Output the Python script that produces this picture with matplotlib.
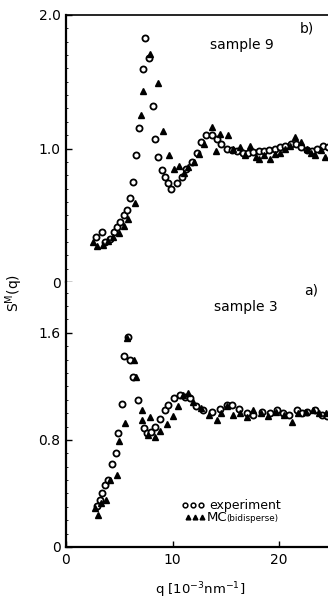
import matplotlib
matplotlib.use("Agg")
import matplotlib.pyplot as plt
from matplotlib.ticker import MultipleLocator

# sample 9 (panel b)
q9_exp = [2.8, 3.35, 3.65, 4.1, 4.5, 4.8, 5.05, 5.4, 5.7, 6.0, 6.3, 6.6, 6.9, 7.2, 7.4,
          7.8, 8.2, 8.4, 8.6, 9.0, 9.3, 9.6, 9.9, 10.4, 10.9, 11.3, 11.8, 12.3, 12.7, 13.1,
          13.7, 14.2, 14.6, 15.1, 15.6, 16.1, 16.6, 17.1, 17.6, 18.1, 18.6, 19.1, 19.6, 20.1,
          20.6, 21.1, 21.6, 22.1, 22.6, 23.1, 23.6, 24.1, 24.6]
s9_exp = [0.34, 0.375, 0.30, 0.32, 0.375, 0.41, 0.45, 0.50, 0.54, 0.63, 0.75, 0.95, 1.15, 1.595, 1.83,
          1.68, 1.32, 1.07, 0.935, 0.84, 0.79, 0.74, 0.70, 0.74, 0.79, 0.85, 0.90, 0.97, 1.05, 1.10,
          1.10, 1.07, 1.03, 1.0, 0.99, 0.98, 0.97, 0.97, 0.975, 0.98, 0.985, 0.99, 1.0, 1.01,
          1.02, 1.03, 1.03, 1.01, 0.99, 0.98, 1.0, 1.02, 1.01]
q9_mc = [2.55, 2.9, 3.45, 3.9, 4.45, 5.0, 5.45, 5.85, 6.45, 7.0, 7.2, 7.9, 8.6, 9.15, 9.7,
         10.1, 10.6, 11.1, 11.5, 12.0, 12.5, 13.0, 13.7, 14.1, 14.5, 15.2, 15.7, 16.3, 16.8, 17.3,
         17.8, 18.1, 18.6, 19.2, 19.6, 20.1, 20.6, 21.0, 21.5, 22.1, 22.6, 23.0, 23.4, 23.9, 24.3]
s9_mc = [0.30, 0.27, 0.28, 0.31, 0.34, 0.37, 0.42, 0.47, 0.59, 1.25, 1.43, 1.71, 1.49, 1.13, 0.95,
         0.85, 0.87, 0.82, 0.86, 0.90, 0.96, 1.03, 1.16, 0.98, 1.11, 1.10, 1.00, 1.01, 0.95, 1.02,
         0.94, 0.92, 0.95, 0.92, 0.96, 0.97, 1.00, 1.02, 1.085, 1.05, 1.00, 0.97, 0.95, 0.99, 0.935]

# sample 3 (panel a)
q3_exp = [2.9, 3.15, 3.4, 3.65, 3.9, 4.35, 4.65, 4.9, 5.3, 5.4, 5.85, 6.0, 6.3, 6.75, 7.3,
          7.6, 8.0, 8.4, 8.85, 9.3, 9.6, 10.1, 10.7, 11.2, 11.65, 12.2, 12.9, 13.7, 14.5, 15.1,
          15.6, 16.2, 17.0, 17.6, 18.4, 19.2, 19.8, 20.4, 20.9, 21.7, 22.2, 22.6, 23.4, 24.0, 24.5]
s3_exp = [0.31, 0.35, 0.40, 0.46, 0.50, 0.62, 0.70, 0.85, 1.07, 1.43, 1.57, 1.40, 1.27, 1.10, 0.89,
          0.85, 0.86, 0.90, 0.96, 1.02, 1.06, 1.11, 1.135, 1.12, 1.11, 1.05, 1.02, 1.01, 1.03, 1.06,
          1.06, 1.03, 1.00, 0.99, 1.01, 1.00, 1.02, 1.00, 0.99, 1.02, 1.00, 1.01, 1.02, 0.99, 0.98]
q3_mc = [2.7, 3.05, 3.3, 3.8, 4.1, 4.75, 5.0, 5.55, 5.75, 6.35, 6.6, 7.1, 7.1, 7.7, 7.9,
         8.35, 8.85, 9.45, 10.0, 10.5, 11.0, 11.5, 11.95, 12.7, 13.4, 14.15, 14.6, 15.1, 15.7, 16.3,
         17.0, 17.6, 18.3, 19.0, 19.7, 20.5, 21.2, 21.8, 22.5, 23.2, 23.8, 24.4]
s3_mc = [0.29, 0.24, 0.33, 0.35, 0.50, 0.54, 0.79, 0.93, 1.565, 1.40, 1.27, 1.02, 0.95, 0.84, 0.97,
         0.82, 0.87, 0.92, 0.98, 1.05, 1.135, 1.15, 1.08, 1.035, 0.99, 0.95, 1.0, 1.05, 0.985, 1.0,
         0.97, 1.02, 1.0, 0.98, 1.01, 0.99, 0.935, 1.0, 1.01, 1.02, 1.0, 1.0]

x_ticks = [0, 10, 20]
a_ticks = [0, 0.8, 1.6]
a_labels = ["0", "0.8", "1.6"]
b_ticks = [0, 1.0, 2.0]
b_labels = ["0", "1.0", "2.0"]

plt.rcParams["font.family"] = "DejaVu Sans"
fig = plt.figure(figsize=(3.28, 6.0), dpi=100)
W, H = 328, 600
left = 66 / W
ax_b = fig.add_axes([left, 1 - 282 / H, 1 - left, (282 - 15) / H])
ax_a = fig.add_axes([left, 1 - 547 / H, 1 - left, (547 - 282) / H])

circ = dict(ls="none", marker="o", ms=4.4, mfc="white", mec="black", mew=1.3)
tri = dict(ls="none", marker="^", ms=4.4, color="black")


def style_panel(ax, ticks, labels, ymax):
    ax.set_xlim(0, 24.6)
    ax.set_ylim(0, ymax)
    ax.set_yticks(ticks, labels)
    ax.yaxis.set_minor_locator(MultipleLocator(0.1))
    ax.spines["right"].set_visible(False)
    ax.spines["left"].set_linewidth(1.6)
    ax.tick_params(axis="both", direction="in", length=4, width=1.0, labelsize=10, pad=4)
    ax.tick_params(axis="y", which="minor", direction="in", length=1.5, width=0.6)


ax_b.plot(q9_exp, s9_exp, **circ)
ax_b.plot(q9_mc, s9_mc, **tri)
style_panel(ax_b, b_ticks, b_labels, 2.0)
ax_b.spines["bottom"].set_visible(False)
ax_b.spines["top"].set_linewidth(1.2)
ax_b.tick_params(axis="x", bottom=False, labelbottom=False)

ax_a.plot(q3_exp, s3_exp, **circ)
ax_a.plot(q3_mc, s3_mc, **tri)
style_panel(ax_a, a_ticks, a_labels, 1.98)
ax_a.spines["top"].set_visible(False)
ax_a.spines["bottom"].set_linewidth(1.6)
ax_a.set_xticks(x_ticks, [str(t) for t in x_ticks])

# panel annotations
fig.text(242 / W, 1 - 45 / H, "sample 9", ha="center", va="center", fontsize=10)
fig.text(307 / W, 1 - 28 / H, "b)", ha="center", va="center", fontsize=10)
fig.text(246 / W, 1 - 307 / H, "sample 3", ha="center", va="center", fontsize=10)
fig.text(311 / W, 1 - 290 / H, "a)", ha="center", va="center", fontsize=10)

fig.text(14 / W, 1 - 293 / H, "S$^{\\rm M}$(q)", rotation=90, ha="center", va="center", fontsize=10)
fig.text(200 / W, 1 - 590 / H, "q [10$^{-3}$nm$^{-1}$]", ha="center", va="center", fontsize=9.5)

# legend
fig.lines.append(plt.Line2D([185 / W, 193 / W, 201 / W], [1 - 505 / H] * 3, transform=fig.transFigure,
                            ls="none", marker="o", ms=3.4, mfc="white", mec="black", mew=1.1))
fig.lines.append(plt.Line2D([188 / W, 195 / W, 202 / W], [1 - 517 / H] * 3, transform=fig.transFigure,
                            ls="none", marker="^", ms=3.4, color="black"))
fig.text(209 / W, 1 - 509 / H, "experiment", ha="left", va="baseline", fontsize=9)
fig.text(207 / W, 1 - 521 / H, "MC", ha="left", va="baseline", fontsize=9.5)
fig.text(226 / W, 1 - 521 / H, "(bidisperse)", ha="left", va="baseline", fontsize=6.3)

fig.savefig("out.png", dpi=100)
